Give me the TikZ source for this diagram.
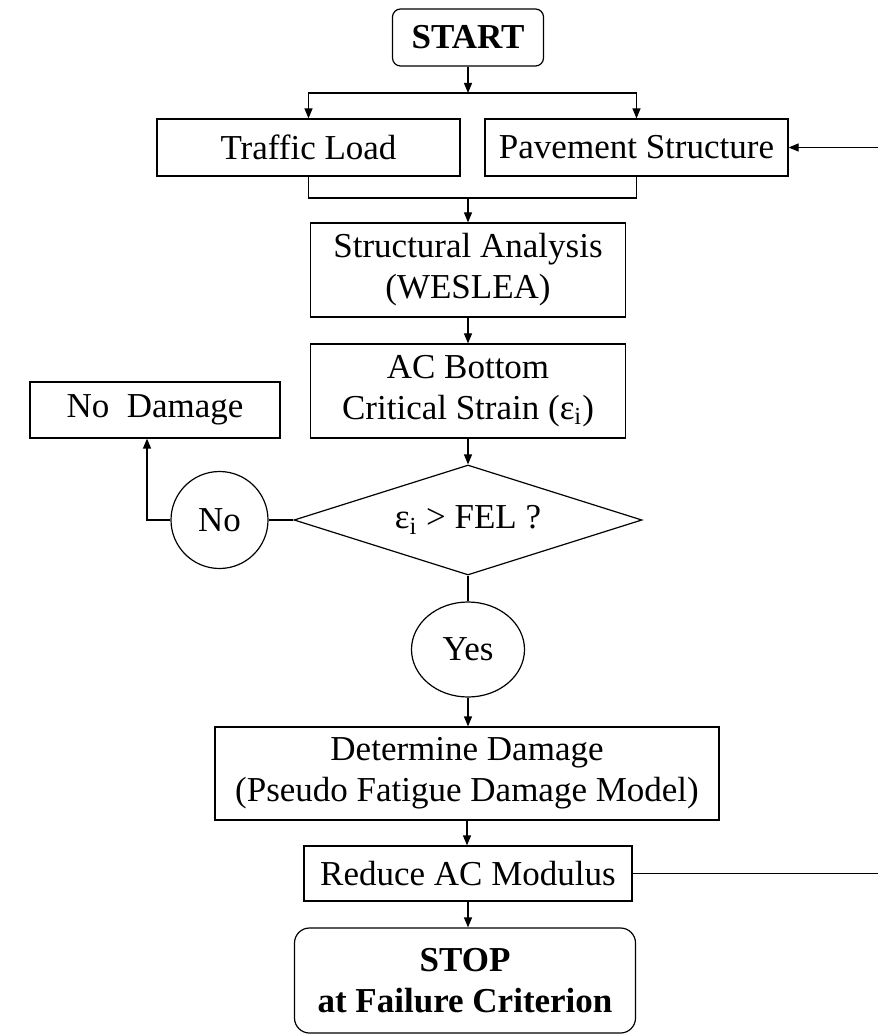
\documentclass[tikz,border=0pt]{standalone}
\usepackage{fontspec}
\setmainfont{Liberation Serif}
\usetikzlibrary{positioning,shapes.geometric,arrows.meta}

\begin{document}
\begin{tikzpicture}[x=0.5pt, y=-0.5pt,
			font=\fontsize{17.5}{20.5}\selectfont,
			box/.style={draw, line width=0.6pt, inner sep=0pt, align=center},
			terminal/.style={box, rounded corners=4pt, font=\fontsize{17.5}{20.5}\selectfont\bfseries},
			decision/.style={diamond, aspect=3.2, draw, line width=0.6pt, inner sep=0pt, minimum width=174pt, minimum height=55pt},
			answer/.style={ellipse, draw, line width=0.6pt, inner sep=0pt},
			edge/.style={line width=0.6pt},
			arrow/.style={edge, -{Triangle[length=5pt, width=4pt]}}
		]
		\useasboundingbox (0,0) rectangle (877,1036);

		\node[terminal, minimum width=75.5pt, minimum height=28.5pt] (start) at (468,37.5) {START};
		\node[box, minimum width=151.5pt, minimum height=28.5pt] (traffic) at (308.5,147.5) {Traffic Load};
		\node[box, minimum width=151.5pt, minimum height=28.5pt] (pave) at (636.5,147.5) {Pavement Structure};
		\node[box, minimum width=157.5pt, minimum height=47pt] (anal) at (468,270) {Structural Analysis\\(WESLEA)};
		\node[box, minimum width=157.5pt, minimum height=47pt] (strain) at (468,391) {AC Bottom\\Critical Strain (ε\textsubscript{i})};
		\node[box, minimum width=125pt, minimum height=28pt] (nodam) at (155,410) {No~~Damage};
		\node[decision] (check) at (468,520) {ε\textsubscript{i} > FEL ?};
		\node[answer, minimum width=48.5pt, minimum height=48.5pt] (no) at (219.5,520) {No};
		\node[answer, minimum width=56.5pt, minimum height=47.5pt] (yes) at (468,649.5) {Yes};
		\node[box, minimum width=252pt, minimum height=46.5pt] (damage) at (467,773.5) {Determine Damage\\(Pseudo Fatigue Damage Model)};
		\node[box, minimum width=164pt, minimum height=27.5pt] (reduce) at (468,873.5) {Reduce AC Modulus};
		\node[terminal, rounded corners=7.5pt, minimum width=170.5pt, minimum height=52.5pt] (stop) at (465,980.5) {STOP\\at Failure Criterion};

		\coordinate (split) at (468,93);
		\coordinate (merge) at (468,198);
		\coordinate (bend) at (147,520);
		\coordinate (loop) at (880,873.5);

		\draw[arrow] (start) -- (split);
		\draw[arrow] (split) -| (traffic);
		\draw[arrow] (split) -| (pave);
		\draw[edge] (traffic) |- (merge) -| (pave);
		\draw[arrow] (merge) -- (anal);
		\draw[arrow] (anal) -- (strain);
		\draw[arrow] (strain) -- (check);
		\draw[edge] (check) -- (no);
		\draw[arrow] (no) -- (bend) -- (bend |- nodam.south);
		\draw[edge] (check) -- (yes);
		\draw[arrow] (yes) -- (yes |- damage.north);
		\draw[arrow] (damage) -- (damage |- reduce.north);
		\draw[arrow] (reduce) -- (reduce |- stop.north);
		\draw[arrow] (reduce) -- (loop) |- (pave);
		\end{tikzpicture}
\end{document}
